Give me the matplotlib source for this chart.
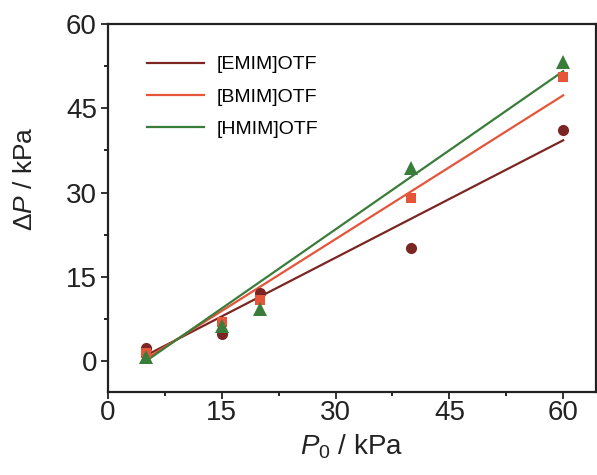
import matplotlib
matplotlib.use("Agg")
import matplotlib.pyplot as plt
from matplotlib.ticker import MultipleLocator

plt.rcParams['font.family'] = ['Liberation Sans', 'DejaVu Sans']
plt.rcParams['mathtext.fontset'] = 'custom'
plt.rcParams['mathtext.rm'] = 'Liberation Sans'
plt.rcParams['mathtext.it'] = 'Liberation Sans:italic'

# Data
p0 = [5, 15, 20, 40, 60]
emim = [2.4, 4.8, 12.1, 20.1, 41.2]
bmim = [1.4, 7.0, 10.8, 29.0, 50.5]
hmim = [0.7, 6.2, 9.2, 34.4, 53.2]

fit_x = [5, 60]
emim_fit = [1.0, 39.3]
bmim_fit = [0.4, 47.3]
hmim_fit = [0.0, 51.6]

labels = ['[EMIM]OTF', '[BMIM]OTF', '[HMIM]OTF']
colors = ['#7B2622', '#E5553A', '#3A7D3A']
markers = ['o', 's', '^']
msizes = [8, 7, 9.5]

fig = plt.figure(figsize=(5.97, 4.75), dpi=100)
ax = fig.add_axes([108/597, 1-392/475, (597-108)/597 - 0.002, (392-24)/475])

series = [emim, bmim, hmim]
fits = [emim_fit, bmim_fit, hmim_fit]
for y, f, lab, c, m, ms in zip(series, fits, labels, colors, markers, msizes):
    ax.plot(fit_x, f, color=c, lw=1.6, label=lab, zorder=2)
    ax.plot(p0, y, linestyle='none', marker=m, color=c, markersize=ms,
            markeredgewidth=0, zorder=3)

ax.set_xlim(0, 64.3)
ax.set_ylim(-5.5, 60)
ax.xaxis.set_major_locator(MultipleLocator(15))
ax.xaxis.set_minor_locator(MultipleLocator(7.5))
ax.yaxis.set_major_locator(MultipleLocator(15))
ax.yaxis.set_minor_locator(MultipleLocator(7.5))
ax.tick_params(which='major', direction='out', length=5, width=1.3,
               labelsize=20, colors='#222222')
ax.tick_params(axis='x', which='major', pad=1)
ax.tick_params(axis='y', which='major', pad=3)
ax.tick_params(which='minor', direction='out', length=3, width=1.2)
for s in ax.spines.values():
    s.set_linewidth(1.6)
    s.set_color('#222222')

ax.set_xlabel(r'$\mathit{P}_{0}$ / kPa', fontsize=20, color='#222222')
ax.set_ylabel(r'$\Delta\mathit{P}$ / kPa', fontsize=19, color='#222222')
ax.xaxis.set_label_coords(0.5, -0.11)
ax.yaxis.set_label_coords(-0.145, 0.58)

leg = ax.legend(loc='upper left', bbox_to_anchor=(0.065, 0.935), frameon=False,
                fontsize=14, handlelength=2.9, labelspacing=0.75,
                handletextpad=0.65, borderaxespad=0)

fig.savefig('out.png', dpi=100)
